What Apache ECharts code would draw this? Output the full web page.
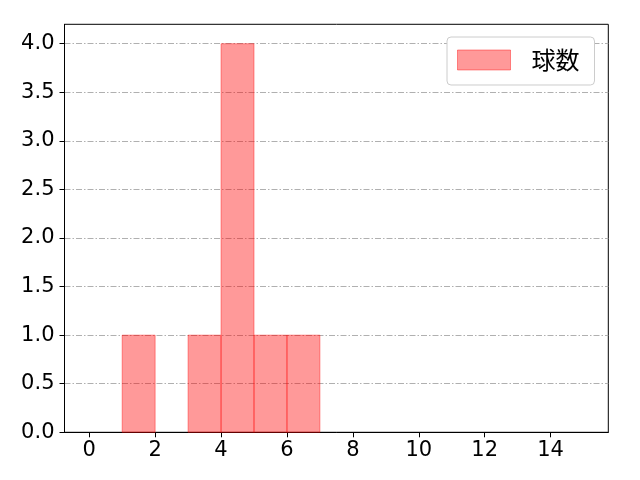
<!DOCTYPE html>
<html>
<head>
<meta charset="utf-8">
<script src="https://cdn.jsdelivr.net/npm/echarts@6/dist/echarts.min.js"></script>
<style>
  html, body { margin: 0; padding: 0; background: #fff; }
  #chart { width: 640px; height: 480px; }
</style>
</head>
<body>
<div id="chart"></div>
<script>
    // histogram bins: left edge, right edge, count
    const binStarts = [0, 1, 2, 3, 4, 5, 6, 7, 8, 9, 10, 11, 12, 13, 14];
    const binEnds = [1, 2, 3, 4, 5, 6, 7, 8, 9, 10, 11, 12, 13, 14, 15];
    const counts = [0, 1, 0, 1, 4, 1, 1, 0, 0, 0, 0, 0, 0, 0, 0];
    const seriesName = "球数";
    const xTicks = [0, 2, 4, 6, 8, 10, 12, 14];
    const yTicks = [0, 0.5, 1, 1.5, 2, 2.5, 3, 3.5, 4];

    const FONT = "'DejaVu Sans', 'Noto Sans CJK JP', sans-serif";
    const CJK_FONT = "'Noto Sans CJK JP', sans-serif";
    const FILL = "rgba(255,0,0,0.4)";
    const EDGE = "rgba(255,0,0,0.4)";

    let chart = echarts.init(document.getElementById("chart"), null, {renderer: "canvas"});

    let data = binStarts.map((s, i) => [s, binEnds[i], counts[i]]);

    let option = {
        animation: false,
        grid: {
            left: 64.5, right: 31.7, top: 24.3, bottom: 47.7,
            show: true, borderColor: "#000", borderWidth: 1, backgroundColor: "transparent"
        },
        legend: {
            data: [seriesName],
            left: 447, top: 37,
            icon: "rect",
            itemWidth: 53, itemHeight: 20,
            padding: [11, 15, 13, 10],
            backgroundColor: "#fff",
            borderColor: "#cccccc", borderWidth: 1, borderRadius: 4,
            itemStyle: {color: FILL, borderColor: EDGE, borderWidth: 1},
            textStyle: {fontFamily: CJK_FONT, fontSize: 24, color: "#000", padding: [0, 0, 0, 16]}
        },
        xAxis: {
            type: "value",
            min: -0.75, max: 15.75,
            axisLine: {show: true, onZero: false, lineStyle: {color: "#000", width: 1}},
            axisTick: {show: true, customValues: xTicks, length: 5, lineStyle: {color: "#000"}},
            axisLabel: {customValues: xTicks, fontFamily: FONT, fontSize: 21, color: "#000", margin: 8},
            splitLine: {show: false}
        },
        yAxis: {
            type: "value",
            min: 0, max: 4.2,
            axisLine: {show: true, onZero: false, lineStyle: {color: "#000", width: 1}},
            axisTick: {show: true, customValues: yTicks, length: 5, lineStyle: {color: "#000"}},
            axisLabel: {
                customValues: yTicks, fontFamily: FONT, fontSize: 21, color: "#000", margin: 10,
                formatter: v => v.toFixed(1)
            },
            splitLine: {show: true, lineStyle: {color: "#b0b0b0", width: 1, type: [6, 2, 1.5, 2]}}
        },
        series: [{
            name: seriesName,
            type: "custom",
            itemStyle: {color: FILL, borderColor: EDGE, borderWidth: 1},
            renderItem: function (params, api) {
                let h = api.value(2);
                let p0 = api.coord([api.value(0), h]);
                let p1 = api.coord([api.value(1), 0]);
                return {
                    type: "rect",
                    shape: {x: p0[0], y: p0[1], width: p1[0] - p0[0], height: p1[1] - p0[1]},
                    style: {fill: FILL, stroke: h > 0 ? EDGE : null, lineWidth: 1}
                };
            },
            encode: {x: [0, 1], y: 2},
            data: data,
            z: 3
        }]
    };
    chart.setOption(option);
</script>
</body>
</html>
